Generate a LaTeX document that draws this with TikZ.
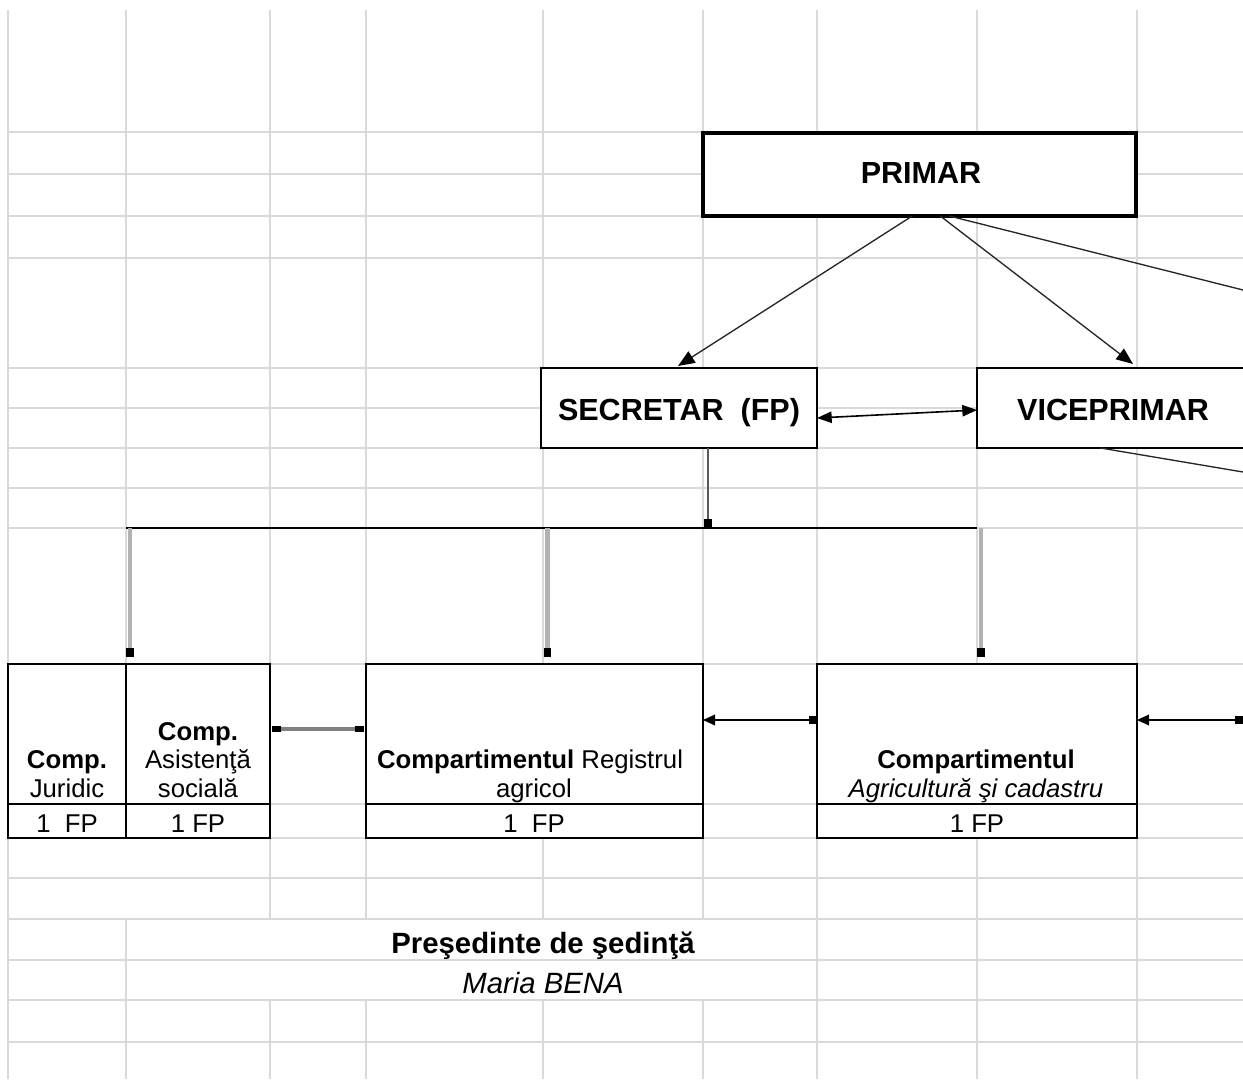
\documentclass[tikz,border=0pt]{standalone}
\usepackage{fontspec}
\setmainfont{Liberation Sans}
\usepackage{tikz}
\usetikzlibrary{arrows.meta,calc}

\definecolor{gridgray}{RGB}{217,217,217}

\tikzset{
  cellline/.style={draw=gridgray,line width=1.3pt},
  orgbox/.style={draw,fill=white,line width=1.2pt,inner sep=0pt,outer sep=0pt},
  bigtxt/.style={anchor=base,inner sep=0pt,font=\fontsize{22.9}{27}\selectfont\bfseries},
  boxtxt/.style={anchor=base,inner sep=0pt,font=\fontsize{19.3}{23}\selectfont},
  signtxt/.style={anchor=base,inner sep=0pt,font=\fontsize{22}{26}\selectfont},
  linkarr/.style={draw=black!85,line width=1pt,-{Triangle[length=12.5pt,width=10pt,color=black]}},
  plainlink/.style={draw=black!85,line width=1pt},
  dblarr/.style={line width=1.2pt,{Triangle[length=11pt,width=8.5pt]}-{Triangle[length=11pt,width=8.5pt]}},
  secdown/.style={draw=black!65,line width=2pt,-{Rectangle[length=7pt,width=6pt,color=black]}},
  droplink/.style={draw=black!30,line width=3.2pt,-{Rectangle[length=7pt,width=5.5pt,color=black]}},
  graylink/.style={draw=black!50,line width=2.6pt,{Rectangle[length=7pt,width=5pt,color=black]}-{Rectangle[length=7pt,width=5pt,color=black]}},
  sidelink/.style={line width=1.1pt,{Triangle[length=9pt,width=8pt]}-{Rectangle[length=6pt,width=6.5pt]}}
}

\begin{document}
\begin{tikzpicture}[x=0.75pt,y=0.75pt,yscale=-1,xscale=1]
\useasboundingbox (0,0) rectangle (1243,1079);
\fill[white] (0,0) rectangle (1243,1079);
\clip (0,0) rectangle (1243,1079);

%Grid: rows
\draw[cellline] (8,132) -- (1243,132);
\draw[cellline] (8,174) -- (1243,174);
\draw[cellline] (8,216) -- (1243,216);
\draw[cellline] (8,258) -- (1243,258);
\draw[cellline] (8,368) -- (1243,368);
\draw[cellline] (8,408) -- (1243,408);
\draw[cellline] (8,448) -- (1243,448);
\draw[cellline] (8,488) -- (1243,488);
\draw[cellline] (8,528) -- (1243,528);
\draw[cellline] (8,664) -- (1243,664);
\draw[cellline] (8,804) -- (1243,804);
\draw[cellline] (8,838) -- (1243,838);
\draw[cellline] (8,878) -- (1243,878);
\draw[cellline] (8,919) -- (1243,919);
\draw[cellline] (8,960) -- (1243,960);
\draw[cellline] (8,1000) -- (1243,1000);
\draw[cellline] (8,1042) -- (1243,1042);
%Grid: columns
\draw[cellline] (8,10) -- (8,1079);
\draw[cellline] (126,10) -- (126,838);
\draw[cellline] (126,919) -- (126,1079);
\draw[cellline] (270,10) -- (270,919);
\draw[cellline] (270,1000) -- (270,1079);
\draw[cellline] (366,10) -- (366,919);
\draw[cellline] (366,1000) -- (366,1079);
\draw[cellline] (543,10) -- (543,919);
\draw[cellline] (543,1000) -- (543,1079);
\draw[cellline] (703,10) -- (703,919);
\draw[cellline] (703,1000) -- (703,1079);
\draw[cellline] (817,10) -- (817,1079);
\draw[cellline] (977,10) -- (977,1079);
\draw[cellline] (1137,10) -- (1137,1079);

%Shape: Rectangle
\node[orgbox,line width=3pt,minimum width=325.1pt,minimum height=62.6pt] (primar) at (919.25,174.25) {};
\node[orgbox,minimum width=207pt,minimum height=60pt] (secr) at (679,408) {};
\node[orgbox,minimum width=242.25pt,minimum height=60pt] (vice) at (1138.5,408) {};
%Shape: Rectangle
\node[orgbox,minimum width=88.5pt,minimum height=105pt] (jur) at (67,734) {};
\node[orgbox,minimum width=88.5pt,minimum height=25.5pt] (jurFP) at (67,821) {};
\node[orgbox,minimum width=108pt,minimum height=105pt] (asist) at (198,734) {};
\node[orgbox,minimum width=108pt,minimum height=25.5pt] (asistFP) at (198,821) {};
\node[orgbox,minimum width=252.75pt,minimum height=105pt] (regist) at (534.5,734) {};
\node[orgbox,minimum width=252.75pt,minimum height=25.5pt] (registFP) at (534.5,821) {};
\node[orgbox,minimum width=240pt,minimum height=105pt] (agric) at (977,734) {};
\node[orgbox,minimum width=240pt,minimum height=25.5pt] (agricFP) at (977,821) {};

\coordinate (offP) at (1243,290);
\coordinate (offV) at (1243,472);
\coordinate (offR) at (1243,720);
\coordinate (busL) at (126,528);
\coordinate (busR) at (977,528);

%Straight Lines
\draw[linkarr] ($(primar.south)+(-7,0)$) -- ($(secr.north)+(-1,-2)$);
\draw[linkarr] ($(primar.south)+(21,0)$) -- ($(vice.north)+(-5.5,-4)$);
\draw[plainlink] ($(primar.south)+(30,0)$) -- (offP);
\draw[plainlink] ($(vice.south)+(-38,0)$) -- (offV);
\draw[dblarr] ($(secr.east)+(0,10)$) -- ($(vice.west)+(0,2)$);
%Straight Lines
\draw[secdown] ($(secr.south)+(29,0)$) coordinate (s0) -- (s0 |- busL);
\draw[line width=1.1pt] (busL) -- (busR);
\draw[droplink] ($(busL)+(4,0)$) -- ($(asist.north west)+(4,-7)$);
\draw[droplink] ($(regist.north |- busL)+(13,0)$) -- ($(regist.north)+(13,-7)$);
\draw[droplink] ($(busR)+(4,0)$) -- ($(agric.north)+(4,-7)$);
%Straight Lines
\draw[graylink] ($(asist.east)+(2,-5)$) -- ($(regist.west)+(-2,-5)$);
\draw[sidelink] ($(regist.east)+(0,-14)$) -- ($(agric.west)+(0,-14)$);
\draw[sidelink] ($(agric.east)+(0,-14)$) -- (offR);

% Text Node
\node[bigtxt] (tPrim) at (921,183) {PRIMAR};
% Text Node
\node[bigtxt] (tSecr) at (679,420) {SECRETAR\ \ (FP)};
% Text Node
\node[bigtxt] (tVice) at (1113,420) {VICEPRIMAR};
% Text Node
\node[boxtxt] (tJur1) at (67,768) {\bfseries Comp.};
\node[boxtxt] (tJur2) at (67,797) {Juridic};
\node[boxtxt] (tJur3) at (67,832) {1\ \ FP};
% Text Node
\node[boxtxt] (tAs1) at (198,740) {\bfseries Comp.};
\node[boxtxt] (tAs2) at (198,768) {Asistenţă};
\node[boxtxt] (tAs3) at (198,797) {socială};
\node[boxtxt] (tAs4) at (198,832) {1 FP};
% Text Node
\node[boxtxt] (tReg1) at (530,768) {\textbf{Compartimentul} Registrul};
\node[boxtxt] (tReg2) at (534,797) {agricol};
\node[boxtxt] (tReg3) at (534,832) {1\ \ FP};
% Text Node
\node[boxtxt] (tAgr1) at (976,768) {\bfseries Compartimentul};
\node[boxtxt] (tAgr2) at (976,797) {\itshape Agricultură şi cadastru};
\node[boxtxt] (tAgr3) at (977,832) {1 FP};
% Text Node
\node[signtxt] (tPres) at (543,953) {\bfseries Preşedinte de şedinţă};
\node[signtxt] (tName) at (543,993) {\itshape Maria BENA};

\end{tikzpicture}
\end{document}
